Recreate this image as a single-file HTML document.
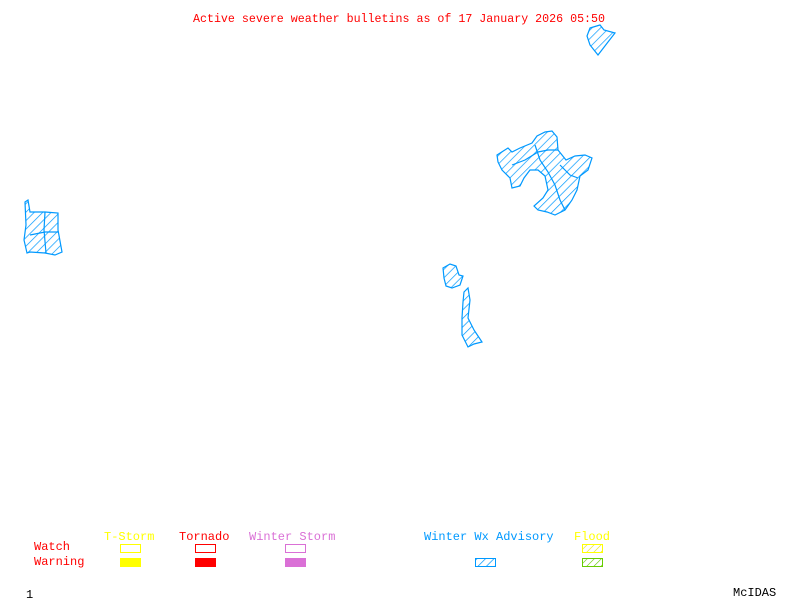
<!DOCTYPE html>
<html><head><meta charset="utf-8"><style>
html,body{margin:0;padding:0;background:#fff;}
svg{display:block}
text{font-family:"Liberation Mono",monospace;font-size:12px;}
</style></head><body>
<svg width="800" height="600" viewBox="0 0 800 600" xmlns="http://www.w3.org/2000/svg">
<defs>
<pattern id="hb" patternUnits="userSpaceOnUse" width="6" height="6" patternTransform="rotate(45)">
<rect width="6" height="6" fill="#fff"/><line x1="0" y1="0" x2="0" y2="6" stroke="#0099ff" stroke-width="1.4"/></pattern>
<pattern id="hy" patternUnits="userSpaceOnUse" width="5" height="5" patternTransform="rotate(45)">
<rect width="5" height="5" fill="#fff"/><line x1="0" y1="0" x2="0" y2="5" stroke="#e6e600" stroke-width="1.2"/></pattern>
<pattern id="hg" patternUnits="userSpaceOnUse" width="5" height="5" patternTransform="rotate(45)">
<rect width="5" height="5" fill="#fff"/><line x1="0" y1="0" x2="0" y2="5" stroke="#66cc00" stroke-width="1.2"/></pattern>
</defs>
<text x="193" y="22" fill="#ff0000" textLength="412" lengthAdjust="spacingAndGlyphs">Active severe weather bulletins as of 17 January 2026 05:50</text>
<g fill="url(#hb)" stroke="#0099ff" stroke-width="1.2">
<polygon points="590,28 600,25 604,30 615,33 608,42 598,55 590,45 587,36"/>
<polygon points="497,155 508,148 512,152 520,148 532,143 537,136 545,132 552,131 557,137 558,150 566,160 575,156 585,155 592,158 588,170 580,176 577,190 572,200 565,210 555,215 547,212 538,210 534,206 543,198 548,190 545,176 538,170 530,170 524,178 520,186 512,188 510,178 502,170 498,162"/>
<polygon points="25,202 28,200 30,212 45,212 58,213 58,230 62,252 55,255 45,253 30,252 27,253 24,240 26,225"/>
<polygon points="443,268 450,264 456,266 459,275 463,276 460,285 452,288 446,286 444,278"/>
<polygon points="464,292 468,288 470,300 468,318 474,330 478,336 482,342 474,344 468,347 462,335 462,318 463,302"/>
</g>
<g fill="none" stroke="#0099ff" stroke-width="1.2">
<polyline points="512,165 525,160 538,152 548,150 558,150"/>
<polyline points="535,145 540,160 548,172 555,185 560,200 565,210"/>
<polyline points="560,165 570,175 578,178"/>
<polyline points="45,212 44,230 46,253"/>
<polyline points="30,235 45,232 58,232"/>
</g>
<text x="104" y="540" fill="#ffff00">T-Storm</text>
<text x="179" y="540" fill="#ff0000">Tornado</text>
<text x="249" y="540" fill="#da70d6">Winter Storm</text>
<text x="424" y="540" fill="#0099ff">Winter Wx Advisory</text>
<text x="574" y="540" fill="#ffff00">Flood</text>
<text x="34" y="550" fill="#ff0000">Watch</text>
<text x="34" y="565" fill="#ff0000">Warning</text>
<rect x="120.5" y="544.5" width="20" height="8" fill="none" stroke="#ffff00"/>
<rect x="195.5" y="544.5" width="20" height="8" fill="none" stroke="#ff0000"/>
<rect x="285.5" y="544.5" width="20" height="8" fill="none" stroke="#da70d6"/>
<rect x="582.5" y="544.5" width="20" height="8" fill="url(#hy)" stroke="#ffff00"/>
<rect x="120" y="558" width="21" height="9" fill="#ffff00"/>
<rect x="195" y="558" width="21" height="9" fill="#ff0000"/>
<rect x="285" y="558" width="21" height="9" fill="#da70d6"/>
<rect x="475.5" y="558.5" width="20" height="8" fill="url(#hb)" stroke="#0099ff"/>
<rect x="582.5" y="558.5" width="20" height="8" fill="url(#hg)" stroke="#66cc00"/>
<text x="26" y="598" fill="#000">1</text>
<text x="733" y="596" fill="#000">McIDAS</text>
</svg>
</body></html>
